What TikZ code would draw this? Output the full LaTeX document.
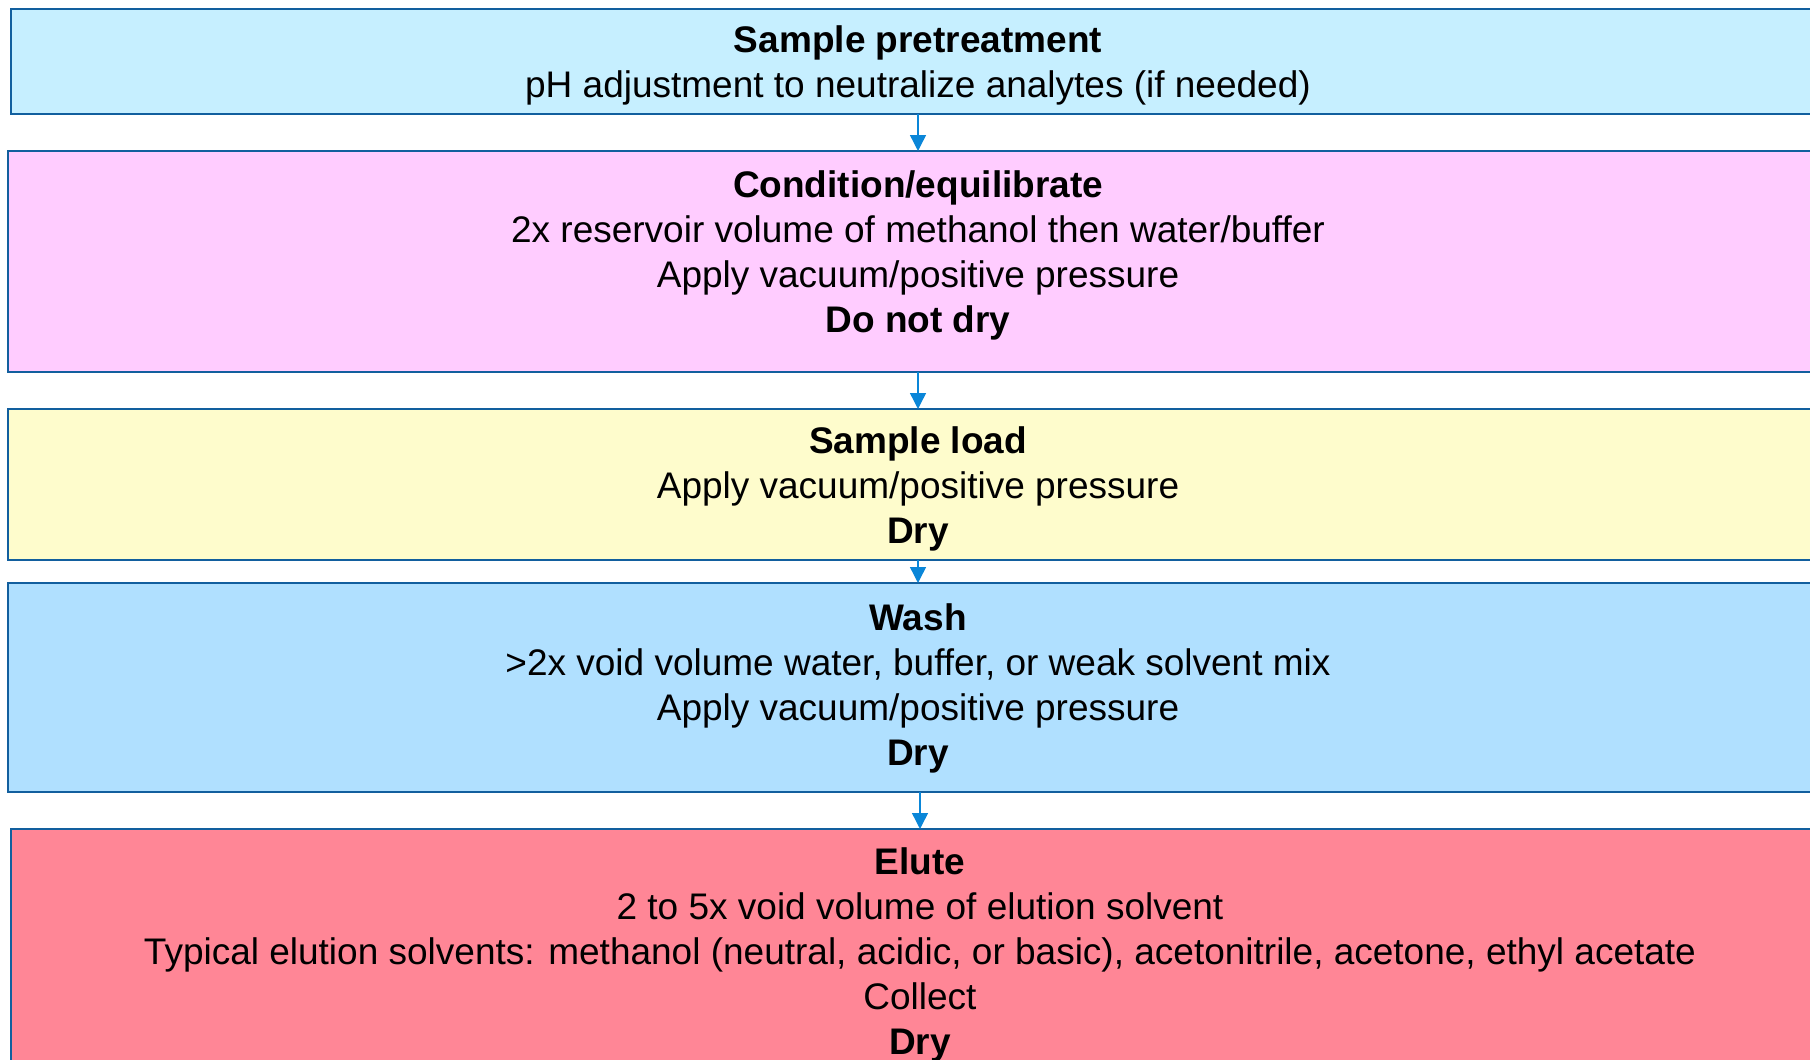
\documentclass[tikz,border=0pt]{standalone}
\usepackage{fontspec}
\setmainfont{Liberation Sans}
\usetikzlibrary{arrows.meta}
\definecolor{edgeblue}{HTML}{125F9E}
\definecolor{arrowblue}{HTML}{0A86D8}
\definecolor{fillpre}{HTML}{C6EFFF}
\definecolor{fillcond}{HTML}{FFCCFF}
\definecolor{fillload}{HTML}{FEFCCC}
\definecolor{fillwash}{HTML}{B0E0FF}
\definecolor{fillelute}{HTML}{FF8696}
\tikzset{
  stepbox/.style={draw=edgeblue, line width=2.6pt, rectangle, inner sep=0pt, outer sep=0pt, anchor=north west},
  steptext/.style={align=center, font=\fontsize{37}{45}\selectfont, inner sep=0pt, text=black},
  flow/.style={draw=arrowblue, line width=1.4pt, -{Triangle[width=16pt,length=16pt]}},
}
\begin{document}
\begin{tikzpicture}[x=1pt,y=-1pt]
  \useasboundingbox (0,0) rectangle (1810,1060);
  \clip (0,0) rectangle (1810,1060);

  % step boxes (they run past the right and bottom page edges)
  \node[stepbox, fill=fillpre,   minimum width=1819pt, minimum height=105pt] (pre)   at (11,9)   {};
  \node[stepbox, fill=fillcond,  minimum width=1822pt, minimum height=221pt] (cond)  at (8,151)  {};
  \node[stepbox, fill=fillload,  minimum width=1822pt, minimum height=151pt] (load)  at (8,409)  {};
  \node[stepbox, fill=fillwash,  minimum width=1822pt, minimum height=209pt] (wash)  at (8,583)  {};
  \node[stepbox, fill=fillelute, minimum width=1819pt, minimum height=250pt] (elute) at (11,829) {};

  % step texts
  \node[steptext] (pre-t) at (918,65) {\textbf{Sample pretreatment}\\pH adjustment to neutralize analytes (if needed)};
  \node[steptext] (cond-t) at (918,255) {\textbf{Condition/equilibrate}\\2x reservoir volume of methanol then water/buffer\\Apply vacuum/positive pressure\\\textbf{Do not dry}};
  \node[steptext] (load-t) at (918,489) {\textbf{Sample load}\\Apply vacuum/positive pressure\\\textbf{Dry}};
  \node[steptext] (wash-t) at (918,688) {\textbf{Wash}\\>2x void volume water, buffer, or weak solvent mix\\Apply vacuum/positive pressure\\\textbf{Dry}};
  \node[steptext] (elute-t) at (920,955) {\textbf{Elute}\\2 to 5x void volume of elution solvent\\Typical elution solvents: methanol (neutral, acidic, or basic), acetonitrile, acetone, ethyl acetate\\Collect\\\textbf{Dry}};

  % connectors
  \coordinate (c1) at (918,0);
  \coordinate (c2) at (920,0);
  \draw[flow] (pre.south -| c1) -- (cond.north -| c1);
  \draw[flow] (cond.south -| c1) -- (load.north -| c1);
  \draw[flow] (load.south -| c1) -- (wash.north -| c1);
  \draw[flow] (wash.south -| c2) -- (elute.north -| c2);
\end{tikzpicture}
\end{document}
